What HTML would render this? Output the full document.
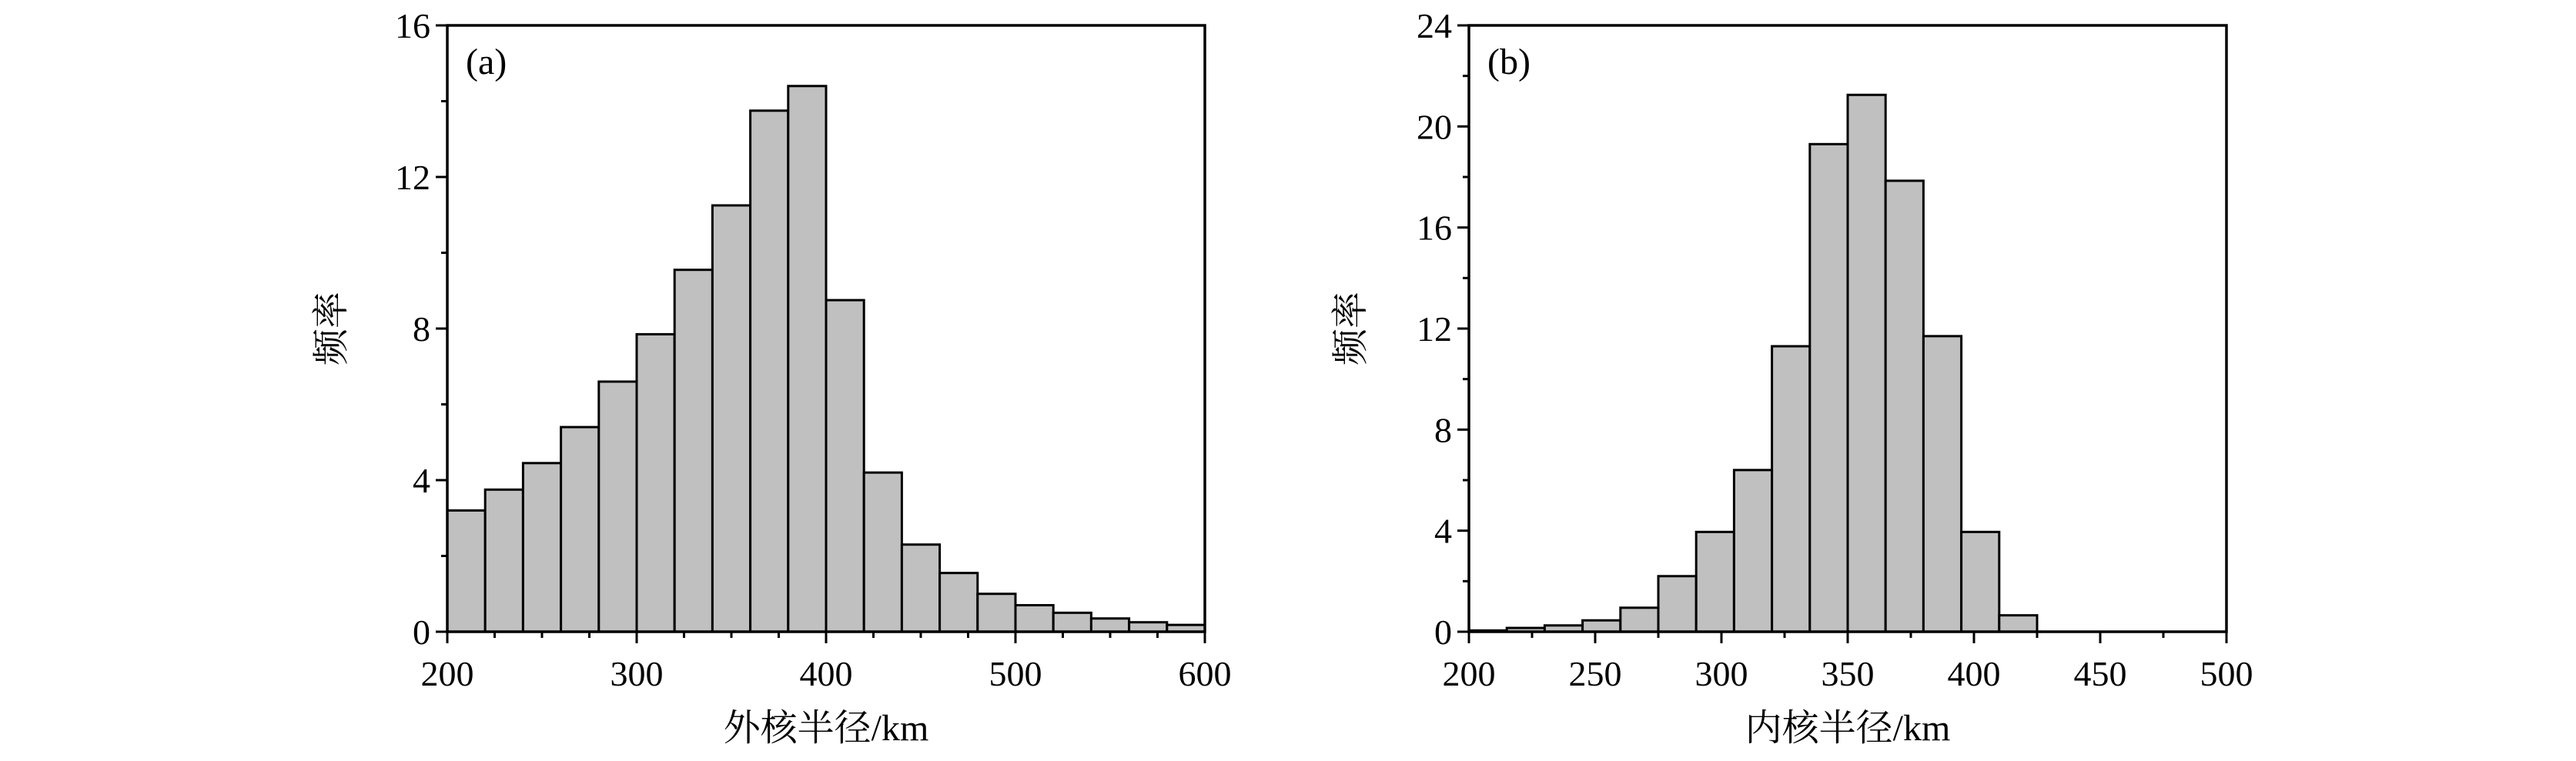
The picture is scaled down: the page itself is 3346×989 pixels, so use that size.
<!DOCTYPE html>
<html><head><meta charset="utf-8"><style>
html,body{margin:0;padding:0;background:#fff;}
svg text{font-family:"Liberation Serif","Noto Serif CJK SC",serif;fill:#000;}
</style></head><body>
<svg id="chart" width="3346" height="984" viewBox="0 0 3346 984" xmlns="http://www.w3.org/2000/svg"></svg>
<script>
const binsA=[200,220,240,260,280,300,320,340,360,380,400,420,440,460,480,500,520,540,560,580,600];
const valuesA=[3.2,3.75,4.45,5.4,6.6,7.85,9.55,11.25,13.75,14.4,8.75,4.2,2.3,1.55,1.0,0.7,0.5,0.35,0.25,0.18];
const xTicksA=[200,300,400,500,600];
const yTicksA=[0,4,8,12,16];
const binsB=[200,215,230,245,260,275,290,305,320,335,350,365,380,395,410,425];
const valuesB=[0.05,0.15,0.25,0.45,0.95,2.2,3.95,6.4,11.3,19.3,21.25,17.85,11.7,3.95,0.65];
const xTicksB=[200,250,300,350,400,450,500];
const yTicksB=[0,4,8,12,16,20,24];

const NS="http://www.w3.org/2000/svg";
const svg=document.getElementById('chart');
function mk(tag,attrs,parent){const e=document.createElementNS(NS,tag);for(const k in attrs)e.setAttribute(k,attrs[k]);(parent||svg).appendChild(e);return e;}

function panel(o){
  const g=mk('g',{});
  
  
  const sx=v=>o.x0+(v-o.xmin)/(o.xmax-o.xmin)*(o.x1-o.x0);
  const sy=v=>o.y1-(v-o.ymin)/(o.ymax-o.ymin)*(o.y1-o.y0);
  for(let i=0;i<o.vals.length;i++){
    const r=mk('rect',{x:sx(o.bins[i]),y:sy(o.vals[i]),width:sx(o.bins[i+1])-sx(o.bins[i]),height:sy(0)-sy(o.vals[i]),fill:'#c0c0c0',stroke:'#000','stroke-width':3},g);
    
    
  }
  const frame=mk('rect',{x:o.x0,y:o.y0,width:o.x1-o.x0,height:o.y1-o.y0,fill:'none',stroke:'#000','stroke-width':3.5},g);
  
  
  // x ticks
  for(let v=o.xmin;v<=o.xmax+0.001;v+=o.xminor){
    const major=o.xt.includes(v);
    mk('line',{x1:sx(v),x2:sx(v),y1:o.y1,y2:o.y1+(major?15:8),stroke:'#000','stroke-width':3},g);
  }
  o.xt.forEach(v=>{
    const t=mk('text',{x:sx(v),y:o.y1+70,'font-size':46,'text-anchor':'middle'},g);
    t.textContent=v;
    
    
  });
  for(let v=o.ymin;v<=o.ymax+0.001;v+=o.yminor){
    const major=o.yt.includes(v);
    mk('line',{x1:o.x0,x2:o.x0-(major?15:8),y1:sy(v),y2:sy(v),stroke:'#000','stroke-width':3},g);
  }
  o.yt.forEach(v=>{
    const t=mk('text',{x:o.x0-22,y:sy(v)+16,'font-size':46,'text-anchor':'end'},g);
    t.textContent=v;
    
    
  });
  const lab=mk('text',{x:o.x0+24,y:96,'font-size':48},g);
  lab.textContent=o.tag;
  
  
  const xt=mk('text',{x:(o.x0+o.x1)/2,y:962,'font-size':48,'text-anchor':'middle'},g);
  xt.textContent=o.xtitle;
  
  
  const yt=mk('text',{x:0,y:0,'font-size':48,'text-anchor':'middle',transform:`translate(${o.ytx},${(o.y0+o.y1)/2}) rotate(-90)`},g);
  yt.textContent='频率';
  
  
}
panel({name:'panel-a',x0:581,x1:1565,y0:33,y1:821,xmin:200,xmax:600,ymin:0,ymax:16,bins:binsA,vals:valuesA,xt:xTicksA,yt:yTicksA,xminor:25,yminor:2,tag:'(a)',xtitle:'外核半径/km',ytx:446});
panel({name:'panel-b',x0:1908,x1:2892,y0:33,y1:821,xmin:200,xmax:500,ymin:0,ymax:24,bins:binsB,vals:valuesB,xt:xTicksB,yt:yTicksB,xminor:25,yminor:2,tag:'(b)',xtitle:'内核半径/km',ytx:1770});
</script>
</body></html>
